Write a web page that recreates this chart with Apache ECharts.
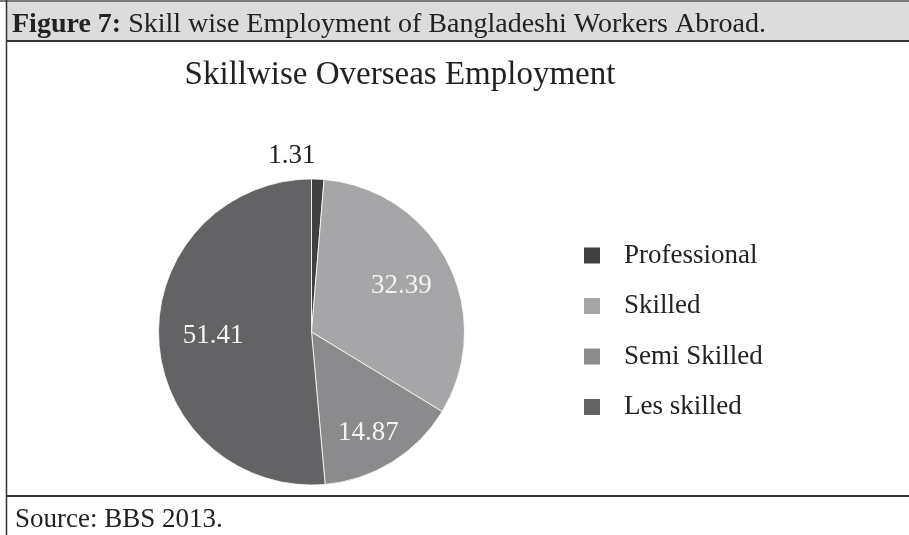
<!DOCTYPE html>
<html>
<head>
<meta charset="utf-8">
<script src="https://cdn.jsdelivr.net/npm/echarts@6/dist/echarts.min.js"></script>
<style>
  html, body { margin: 0; padding: 0; background: #fff; }
  #chart { width: 909px; height: 535px; }
</style>
</head>
<body>
<div id="chart"></div>
<script>
// Skill categories and their share of overseas employment (%)
const categories = ['Professional', 'Skilled', 'Semi Skilled', 'Les skilled'];
const shares = [1.31, 32.39, 14.87, 51.41];
const sliceColors = ['#404040', '#a6a6a8', '#8b8b8d', '#636365'];

const figureCaption = 'Skill wise Employment of Bangladeshi Workers Abroad.';
const chartTitle = 'Skillwise Overseas Employment';
const sourceNote = 'Source: BBS 2013.';

const FONT = '"Liberation Serif", "DejaVu Serif", serif';
const CX = 311.5, CY = 332, R = 153;
// how far from the centre each value label sits, relative to the default inside position
const labelRadiusFactor = [2.22, 1.27, 1.5, 1.24];

const chart = echarts.init(document.getElementById('chart'), null, { renderer: 'canvas' });

chart.setOption({
  animation: false,
  backgroundColor: '#ffffff',
  color: sliceColors,
  graphic: [
    // caption bar
    { type: 'rect', shape: { x: 6, y: 0, width: 903, height: 41 }, style: { fill: '#dcdcdc' }, z: 0 },
    { type: 'line', shape: { x1: 0, y1: 1, x2: 909, y2: 1 }, style: { stroke: '#7a7a7a', lineWidth: 2 } },
    { type: 'line', shape: { x1: 6, y1: 41, x2: 909, y2: 41 }, style: { stroke: '#333', lineWidth: 2 } },
    // frame
    { type: 'line', shape: { x1: 6.5, y1: 0, x2: 6.5, y2: 535 }, style: { stroke: '#333', lineWidth: 1.5 } },
    { type: 'line', shape: { x1: 6, y1: 496, x2: 909, y2: 496 }, style: { stroke: '#333', lineWidth: 2 } }
  ],
  title: [
    {
      text: '{b|Figure 7:} ' + figureCaption,
      left: 7, top: 6,
      textStyle: {
        fontFamily: FONT, fontSize: 28, fontWeight: 'normal', color: '#222',
        rich: { b: { fontFamily: FONT, fontSize: 28, fontWeight: 'bold', color: '#222' } }
      }
    },
    {
      text: chartTitle,
      left: 395, top: 54, textAlign: 'center',
      textStyle: { fontFamily: FONT, fontSize: 33, fontWeight: 'normal', color: '#222' }
    },
    {
      text: sourceNote,
      left: 10, top: 501,
      textStyle: { fontFamily: FONT, fontSize: 27, fontWeight: 'normal', color: '#222' }
    }
  ],
  legend: {
    orient: 'vertical',
    left: 577, top: 237,
    icon: 'rect',
    itemWidth: 18, itemHeight: 18,
    itemGap: 23.5,
    data: categories,
    textStyle: { fontFamily: FONT, fontSize: 27, color: '#222', padding: [0, 0, 0, 18] }
  },
  series: [{
    type: 'pie',
    center: [CX, CY],
    radius: R,
    startAngle: 90,
    clockwise: true,
    avoidLabelOverlap: false,
    itemStyle: { borderColor: '#ffffff', borderWidth: 0.8 },
    label: {
      show: true,
      position: 'inside',
      formatter: p => p.value.toFixed(2),
      fontFamily: FONT, fontSize: 27, color: '#f4f4f4'
    },
    labelLine: { show: false },
    labelLayout: function (p) {
      const r = p.labelRect;
      const lx = r.x + r.width / 2, ly = r.y + r.height / 2;
      const k = labelRadiusFactor[p.dataIndex];
      return {
        x: CX + (lx - CX) * k + (p.dataIndex === 0 ? -27 : p.dataIndex === 2 ? -6 : 0),
        y: CY + (ly - CY) * k,
        align: 'center', verticalAlign: 'middle'
      };
    },
    data: categories.map((name, i) => ({
      name, value: shares[i],
      label: i === 0 ? { color: '#222' } : undefined
    }))
  }]
});
</script>
</body>
</html>
